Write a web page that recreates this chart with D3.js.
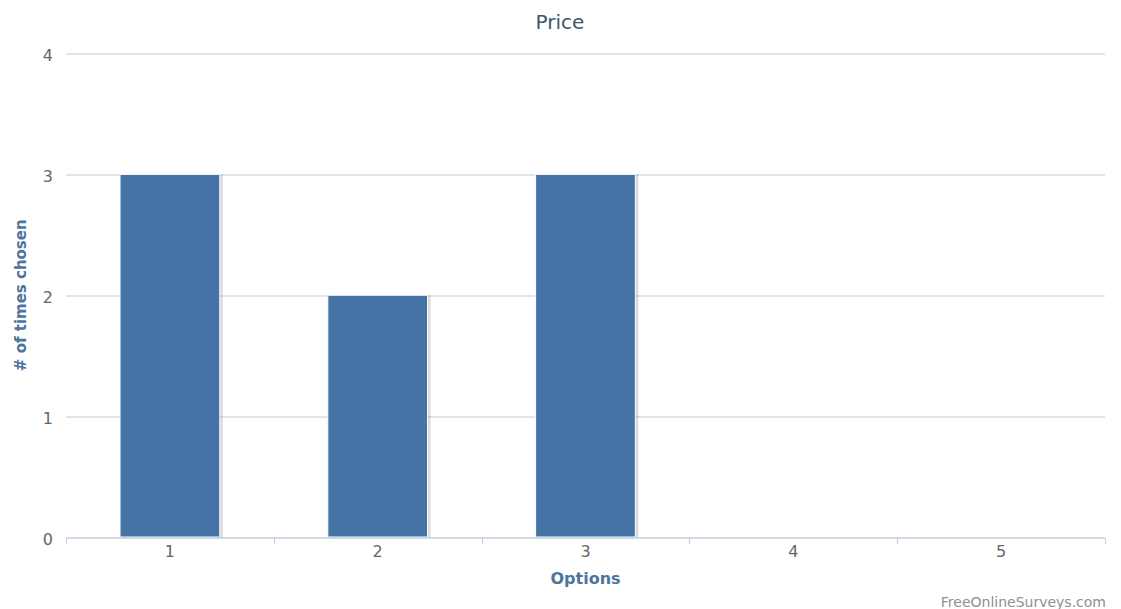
<!DOCTYPE html>
<html>
<head>
<meta charset="utf-8">
<script src="https://cdn.jsdelivr.net/npm/d3@7"></script>
<style>
  html, body { margin: 0; padding: 0; background: #fff; }
  svg { display: block; font-family: "DejaVu Sans", sans-serif; }
</style>
</head>
<body>
<svg id="chart" width="1121" height="609"></svg>
<script>
// Survey question: how often each option was chosen
const categories = ["1", "2", "3", "4", "5"];
const timesChosen = [3, 2, 3, 0, 0];
const yTicks = [0, 1, 2, 3, 4];

const W = 1121, H = 609;
const margin = { top: 53.5, right: 16, bottom: 72, left: 66 };
const plotW = W - margin.left - margin.right;
const plotH = H - margin.top - margin.bottom;

const svg = d3.select("#chart");

const x = d3.scaleBand().domain(categories).range([0, plotW]).padding(0);
const y = d3.scaleLinear().domain([0, 4]).range([plotH, 0]);

const g = svg.append("g").attr("transform", `translate(${margin.left},${margin.top})`);

// Title
svg.append("text")
  .attr("x", 560).attr("y", 29)
  .attr("text-anchor", "middle")
  .attr("fill", "#3e576f")
  .attr("font-size", 20)
  .text("Price");

// Horizontal grid lines
g.append("g")
  .selectAll("line")
  .data(yTicks.filter(d => d > 0))
  .join("line")
  .attr("x1", 0).attr("x2", plotW)
  .attr("y1", d => Math.round(y(d)) + 0.5)
  .attr("y2", d => Math.round(y(d)) + 0.5)
  .attr("stroke", "#c8c8c8")
  .attr("stroke-width", 1);

// Y axis labels
const yAxis = d3.axisLeft(y).tickValues(yTicks).tickSize(0).tickPadding(13).tickFormat(d3.format("d"));
g.append("g")
  .call(yAxis)
  .call(s => s.select(".domain").remove())
  .call(s => s.selectAll("text")
    .attr("fill", "#666")
    .attr("font-size", 16)
    .attr("dy", "0.45em")
    .attr("font-family", "DejaVu Sans, sans-serif"));

// Y axis title
svg.append("text")
  .attr("transform", `translate(26,${margin.top + plotH / 2}) rotate(-90)`)
  .attr("text-anchor", "middle")
  .attr("fill", "#4d759e")
  .attr("font-weight", "bold")
  .attr("font-size", 15)
  .text("# of times chosen");

// Bars with shadow and white border
const barData = timesChosen.map((v, i) => ({ c: categories[i], v })).filter(d => d.v > 0);
const barW = x.bandwidth() * 0.48;
const bars = g.append("g");
bars.selectAll("rect.shadow")
  .data(barData)
  .join("rect")
  .attr("class", "shadow")
  .attr("x", d => x(d.c) + (x.bandwidth() - barW) / 2 + 1.5)
  .attr("y", d => y(d.v) + 1.5)
  .attr("width", barW)
  .attr("height", d => y(0) - y(d.v) - 1.5)
  .attr("fill", "none")
  .attr("stroke", "rgba(0,0,0,0.14)")
  .attr("stroke-width", 3);
bars.selectAll("rect.bar")
  .data(barData)
  .join("rect")
  .attr("class", "bar")
  .attr("x", d => x(d.c) + (x.bandwidth() - barW) / 2)
  .attr("y", d => y(d.v))
  .attr("width", barW)
  .attr("height", d => y(0) - y(d.v))
  .attr("fill", "#4572a7")
  .attr("stroke", "#ffffff")
  .attr("stroke-width", 1);

// X axis line and ticks at category boundaries
const xAxisG = g.append("g").attr("transform", `translate(0,${Math.round(plotH) + 0.5})`);
xAxisG.append("line")
  .attr("x1", 0).attr("x2", plotW)
  .attr("stroke", "#c0d0e0").attr("stroke-width", 1.5);
xAxisG.selectAll("line.tick")
  .data(categories.map(c => x(c)).concat([plotW]))
  .join("line")
  .attr("class", "tick")
  .attr("x1", d => Math.round(d) + 0.5).attr("x2", d => Math.round(d) + 0.5)
  .attr("y1", 0).attr("y2", 6)
  .attr("stroke", "#c0d0e0");

const xAxis = d3.axisBottom(x).tickSize(0).tickPadding(9);
g.append("g")
  .attr("transform", `translate(0,${plotH})`)
  .call(xAxis)
  .call(s => s.select(".domain").remove())
  .call(s => s.selectAll("text")
    .attr("fill", "#666")
    .attr("font-size", 16)
    .attr("font-family", "DejaVu Sans, sans-serif"));

// X axis title
svg.append("text")
  .attr("x", margin.left + plotW / 2)
  .attr("y", 584)
  .attr("text-anchor", "middle")
  .attr("fill", "#4d759e")
  .attr("font-weight", "bold")
  .attr("font-size", 16)
  .text("Options");

// Credits
svg.append("text")
  .attr("x", 1106).attr("y", 607)
  .attr("text-anchor", "end")
  .attr("fill", "#909090")
  .attr("font-size", 14)
  .text("FreeOnlineSurveys.com");
</script>
</body>
</html>
